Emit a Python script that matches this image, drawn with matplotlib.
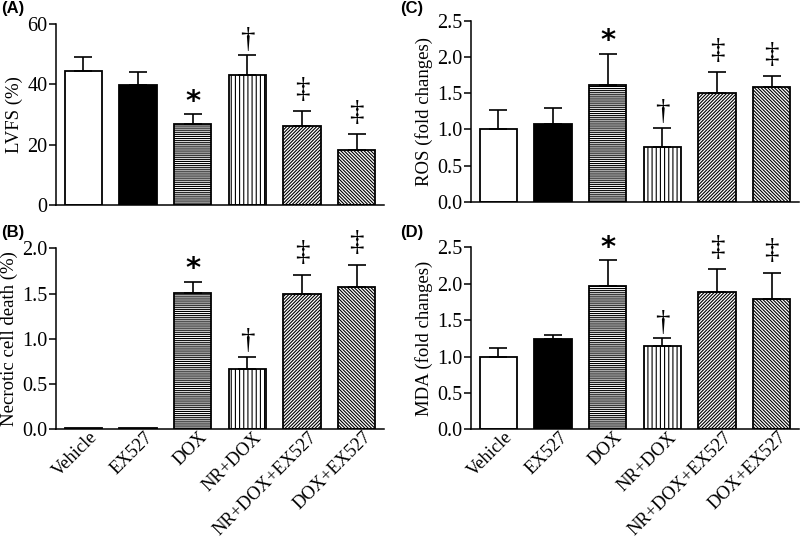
import matplotlib
matplotlib.use("Agg")
import matplotlib.pyplot as plt
import matplotlib.transforms as mtransforms
import numpy as np

plt.rcParams['font.family'] = ['Liberation Serif', 'DejaVu Serif']
plt.rcParams['hatch.linewidth'] = 0.8

categories = ["Vehicle", "EX527", "DOX", "NR+DOX", "NR+DOX+EX527", "DOX+EX527"]

lvfs_mean = [44.5, 39.7, 26.8, 43.0, 26.2, 18.2]
lvfs_err = [4.6, 4.4, 3.3, 6.6, 4.9, 5.2]
lvfs_sig = ["", "", "*", "†", "‡", "‡"]

ros_mean = [1.00, 1.07, 1.61, 0.75, 1.51, 1.59]
ros_err = [0.27, 0.22, 0.44, 0.27, 0.28, 0.15]
ros_sig = ["", "", "*", "†", "‡", "‡"]

necro_mean = [0.01, 0.01, 1.51, 0.67, 1.50, 1.57]
necro_err = [0.0, 0.0, 0.12, 0.13, 0.21, 0.25]
necro_sig = ["", "", "*", "†", "‡", "‡"]

mda_mean = [1.00, 1.24, 1.97, 1.15, 1.89, 1.79]
mda_err = [0.12, 0.06, 0.35, 0.10, 0.31, 0.36]
mda_sig = ["", "", "*", "†", "‡", "‡"]

faces = ["white", "black", "white", "white", "white", "white"]
hatches = [None, None, "--------", "||||", "//////////", "\\\\\\\\\\\\\\\\\\\\"]

W, H = 800, 542
fig = plt.figure(figsize=(8, 5.42), dpi=100)


def px_axes(left, top, right, bottom):
    return fig.add_axes([left / W, 1 - bottom / H, (right - left) / W, (bottom - top) / H])


def panel(ax, means, errs, sigs, ylim, yticks, yfmt, ylabel, show_x):
    x = np.arange(len(categories))
    for i in range(len(categories)):
        ax.bar(x[i], means[i], width=0.68, color=faces[i], edgecolor="black",
               linewidth=1.3, hatch=hatches[i], zorder=2)
        if errs[i] > 0:
            ax.errorbar(x[i], means[i], yerr=[[0], [errs[i]]], fmt="none",
                        ecolor="black", elinewidth=1.2, capsize=6.5, capthick=1.2, zorder=3)
    for i, s in enumerate(sigs):
        if not s:
            continue
        top = means[i] + errs[i]
        if s == "*":
            ax.annotate(s, (x[i], top), xytext=(0, -1), textcoords="offset points",
                        ha="center", va="bottom", fontsize=21, fontweight="bold",
                        family=["DejaVu Sans"])
        elif s == "†":
            ax.annotate(s, (x[i], top), xytext=(0, 2), textcoords="offset points",
                        ha="center", va="bottom", fontsize=21)
        else:
            ax.annotate(s, (x[i], top), xytext=(0, 6), textcoords="offset points",
                        ha="center", va="bottom", fontsize=21)
    ax.set_xlim(-0.5, 5.5)
    ax.set_ylim(*ylim)
    ax.set_yticks(yticks)
    ax.set_yticklabels([yfmt.format(t) for t in yticks], fontsize=14.5)
    ax.spines["top"].set_visible(False)
    ax.spines["right"].set_visible(False)
    ax.spines["left"].set_linewidth(1.1)
    ax.spines["bottom"].set_linewidth(1.1)
    ax.tick_params(axis="y", direction="out", length=5, width=1.1, pad=1)
    ax.tick_params(axis="x", length=0, pad=1)
    ax.set_xticks(x)
    if show_x:
        ax.set_xticklabels(categories, rotation=45, ha="right", rotation_mode="anchor",
                           fontsize=13.2)
        off = mtransforms.ScaledTranslation(6 / 100, 2 / 100, fig.dpi_scale_trans)
        for lab in ax.get_xticklabels():
            lab.set_transform(lab.get_transform() + off)
    else:
        ax.set_xticklabels([])
    ax.set_ylabel(ylabel, fontsize=13.5, labelpad=3)
    return ax


axA = px_axes(56, 24, 384, 205)
panel(axA, lvfs_mean, lvfs_err, lvfs_sig, (0, 60), [0, 20, 40, 60], "{:.0f}", "LVFS (%)", False)
axC = px_axes(471, 21, 799, 201.7)
panel(axC, ros_mean, ros_err, ros_sig, (0, 2.5), [0.0, 0.5, 1.0, 1.5, 2.0, 2.5], "{:.1f}",
      "ROS (fold changes)", False)
axB = px_axes(56, 248.3, 384, 429.3)
panel(axB, necro_mean, necro_err, necro_sig, (0, 2.0), [0.0, 0.5, 1.0, 1.5, 2.0], "{:.1f}",
      "Necrotic cell death (%)", True)
axD = px_axes(471, 247.3, 799, 429.3)
panel(axD, mda_mean, mda_err, mda_sig, (0, 2.5), [0.0, 0.5, 1.0, 1.5, 2.0, 2.5], "{:.1f}",
      "MDA (fold changes)", True)

for lab, xp, yp in [("(A)", 1, 9), ("(C)", 400, 9), ("(B)", 1, 232), ("(D)", 400, 232)]:
    fig.text(xp / W, 1 - yp / H, lab, fontsize=12, fontweight="bold",
             family=["Liberation Sans", "DejaVu Sans"], ha="left", va="center")

fig.savefig("out.png", dpi=100)
